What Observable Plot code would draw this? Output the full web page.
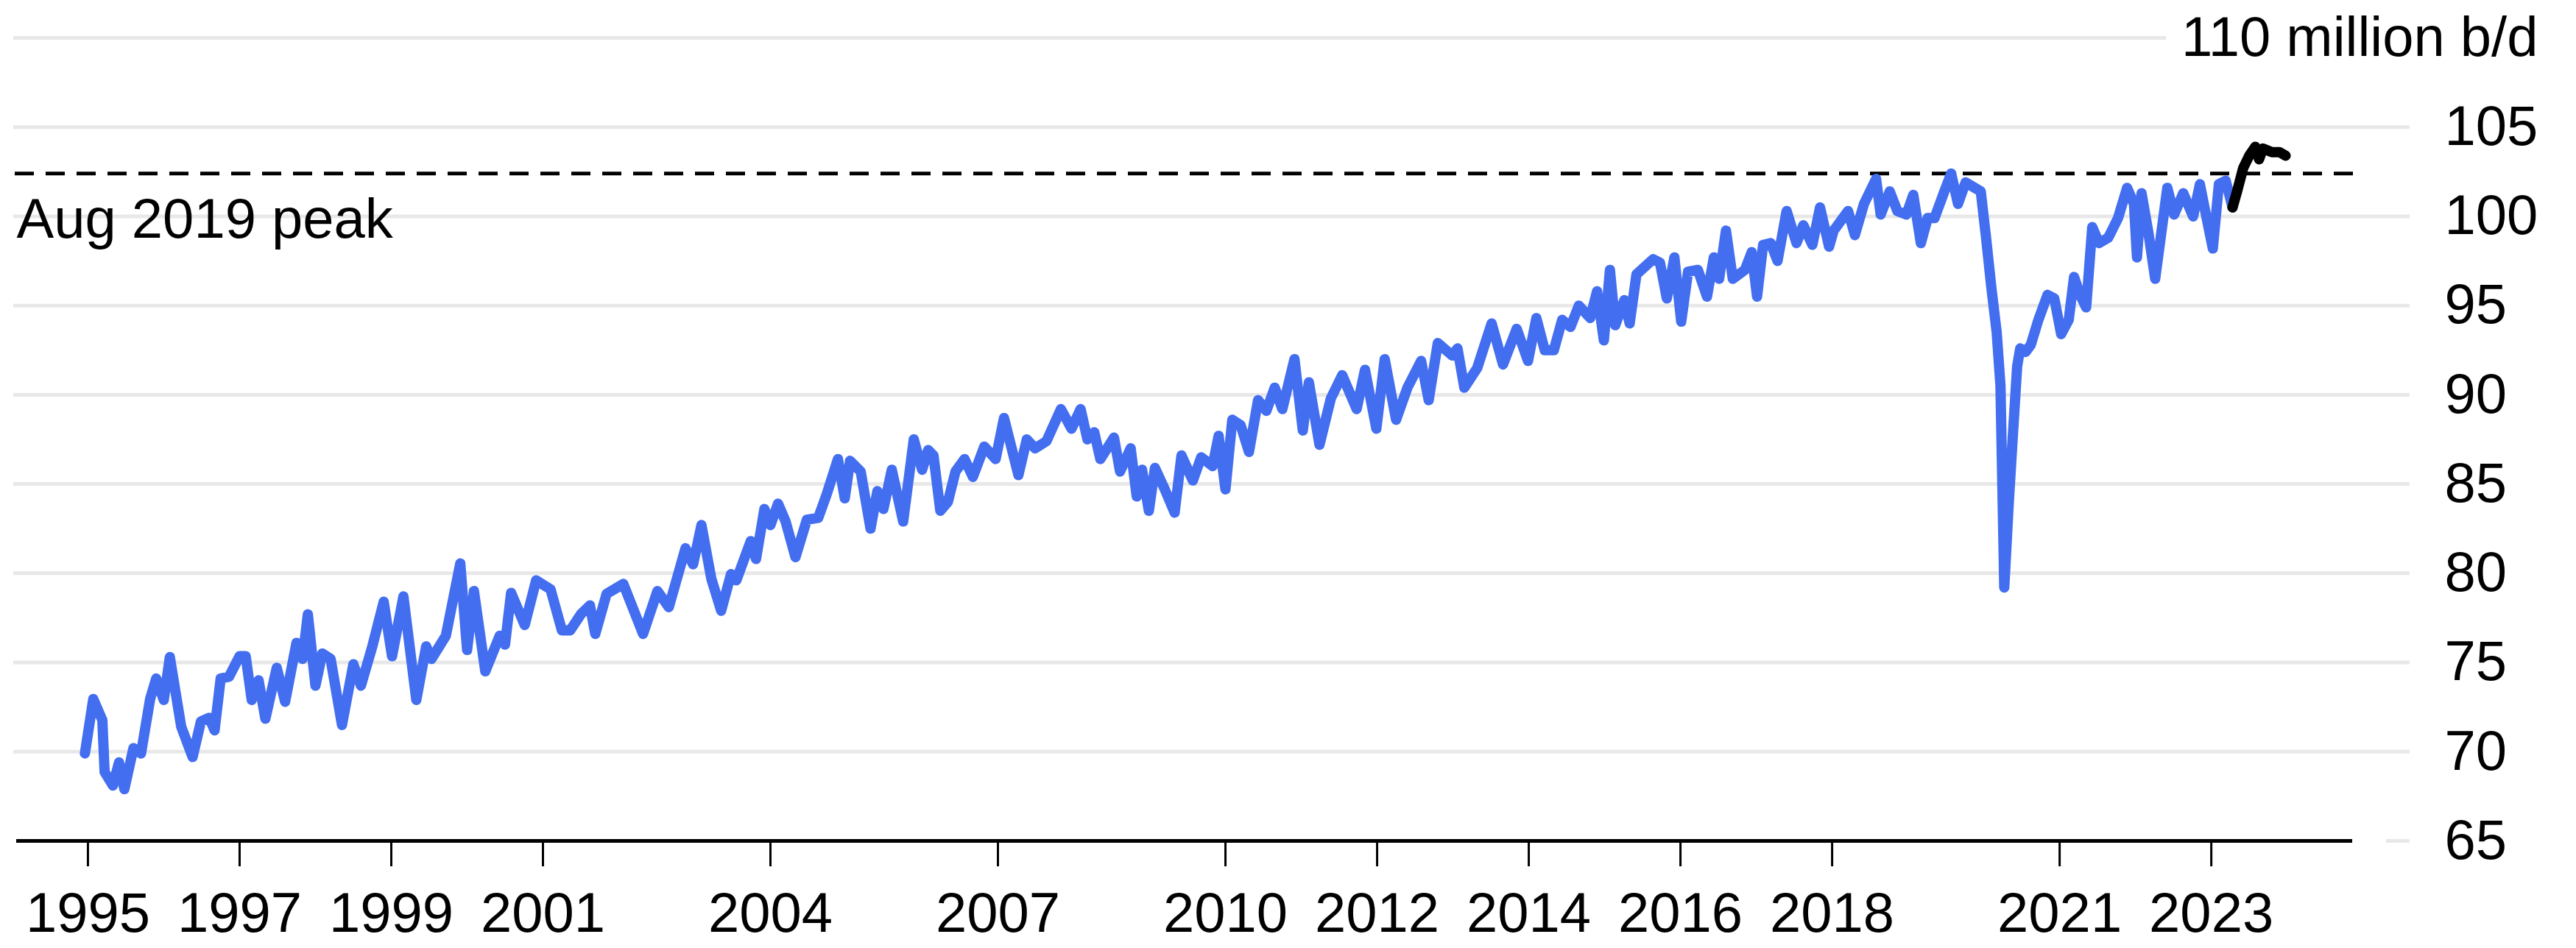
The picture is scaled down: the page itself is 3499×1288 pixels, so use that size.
<!DOCTYPE html>
<html><head><meta charset="utf-8">
<script src="https://cdn.jsdelivr.net/npm/d3@7"></script>
<script src="https://cdn.jsdelivr.net/npm/@observablehq/plot@0.6"></script>
<style>html,body{margin:0;padding:0;background:#fff}</style>
</head><body><div id="chart"></div>
<script>
// World oil demand, million barrels per day
const demandYears = [
1994.96,1995.07,1995.19,1995.22,1995.33,1995.41,1995.48,1995.6,1995.7,1995.82,1995.9,
1996.0,1996.08,1996.23,1996.38,1996.49,1996.6,1996.67,1996.75,1996.86,
1997.0,1997.08,1997.16,1997.25,1997.34,1997.49,1997.6,1997.75,1997.83,1997.9,
1998.0,1998.09,1998.2,1998.35,1998.5,1998.6,1998.75,1998.9,
1999.01,1999.16,1999.33,1999.46,1999.53,1999.72,1999.91,
2000.0,2000.09,2000.24,2000.43,2000.5,2000.58,2000.76,2000.91,
2001.1,2001.25,2001.36,2001.5,2001.62,2001.69,2001.84,
2002.06,2002.32,2002.51,2002.66,2002.88,2002.98,
2003.09,2003.22,2003.35,2003.48,2003.55,2003.74,2003.81,2003.92,
2004.0,2004.1,2004.2,2004.33,2004.48,2004.63,2004.74,2004.89,2004.98,
2005.05,2005.19,2005.32,2005.41,2005.49,2005.6,2005.75,2005.89,
2006.0,2006.08,2006.15,2006.24,2006.34,2006.44,2006.56,2006.67,2006.82,2006.97,
2007.08,2007.27,2007.38,2007.49,2007.64,2007.83,2007.97,
2008.09,2008.18,2008.27,2008.35,2008.53,2008.61,2008.75,2008.83,2008.9,2008.99,
2009.07,2009.2,2009.33,2009.42,2009.57,2009.68,2009.83,2009.91,
2010.0,2010.09,2010.2,2010.31,2010.43,2010.54,2010.65,2010.75,2010.91,
2011.02,2011.1,2011.24,2011.39,2011.54,2011.73,2011.84,2011.99,
2012.1,2012.25,2012.4,2012.58,2012.68,2012.8,2012.99,
2013.06,2013.15,2013.32,2013.51,2013.66,2013.84,2013.99,
2014.1,2014.21,2014.33,2014.44,2014.55,2014.66,2014.81,2014.9,2014.99,
2015.07,2015.14,2015.26,2015.33,2015.42,2015.64,2015.73,2015.82,2015.92,
2016.01,2016.1,2016.23,2016.35,2016.44,2016.51,2016.6,2016.69,2016.85,2016.94,
2017.01,2017.09,2017.19,2017.28,2017.4,2017.53,2017.62,2017.74,2017.84,2017.96,
2018.02,2018.21,2018.3,2018.42,2018.58,2018.64,2018.76,2018.86,2018.98,
2019.07,2019.17,2019.26,2019.35,2019.48,2019.57,2019.66,2019.76,2019.88,2019.96,
2020.03,2020.1,2020.17,2020.22,2020.27,2020.33,2020.38,2020.44,2020.48,2020.55,2020.62,2020.72,2020.84,2020.93,
2021.02,2021.12,2021.19,2021.27,2021.35,2021.43,2021.52,2021.64,2021.77,2021.89,2021.98,
2022.02,2022.08,2022.17,2022.26,2022.42,2022.51,2022.63,2022.76,2022.85,2022.91,
2023.02,2023.1,2023.19,2023.28
];
const demandValues = [
69.9,72.95,71.76,68.86,68.1,69.4,67.9,70.2,69.9,72.95,74.1,
72.9,75.3,71.4,69.7,71.7,71.9,71.2,74.1,74.2,
75.35,75.35,72.9,74.0,71.85,74.7,72.8,76.1,75.2,77.7,
73.7,75.5,75.2,71.5,74.9,73.7,75.9,78.4,
75.35,78.7,72.9,75.9,75.2,76.5,80.55,
75.7,79.0,74.5,76.5,76.0,78.9,77.1,79.6,
79.1,76.8,76.8,77.7,78.2,76.6,78.85,
79.4,76.6,79.0,78.1,81.4,80.5,
82.7,79.7,77.9,79.95,79.6,81.8,80.8,83.6,
82.7,83.9,82.9,80.9,83.0,83.1,84.4,86.4,84.2,
86.3,85.7,82.5,84.6,83.6,85.8,82.9,87.5,
85.8,86.9,86.6,83.5,84.0,85.7,86.4,85.4,87.1,86.4,
88.7,85.5,87.5,87.0,87.4,89.2,88.1,
89.2,87.5,87.9,86.4,87.6,85.7,87.0,84.3,85.8,83.5,
85.9,84.7,83.4,86.6,85.2,86.5,86.0,87.7,
84.7,88.6,88.3,86.8,89.7,89.1,90.4,89.2,92.0,
88.0,90.7,87.2,89.8,91.1,89.2,91.4,88.1,
92.0,88.6,90.4,91.9,89.7,92.9,92.2,
92.6,90.4,91.5,94.0,91.7,93.7,91.9,
94.3,92.5,92.5,94.2,93.8,95.0,94.3,95.8,93.05,
97.0,93.9,95.3,94.0,96.75,97.6,97.4,95.4,97.7,
94.1,96.9,97.0,95.5,97.7,96.5,99.2,96.5,97.0,98.0,
95.5,98.4,98.5,97.5,100.3,98.5,99.5,98.4,100.5,98.3,
99.2,100.3,98.95,100.7,102.1,100.1,101.4,100.3,100.1,
101.2,98.5,99.9,99.9,101.4,102.4,100.7,101.9,101.6,101.4,
98.8,96.0,93.5,90.5,79.2,84.0,87.5,91.6,92.6,92.4,92.8,94.2,95.6,95.4,
93.4,94.2,96.6,95.6,94.9,99.4,98.5,98.8,99.9,101.6,100.7,
97.7,101.3,99.1,96.5,101.6,100.1,101.3,100.0,101.8,100.5,
98.2,101.8,102.0,100.5
];
// Forecast segment (black)
const forecastYears  = [2023.28,2023.34,2023.42,2023.5,2023.58,2023.63,2023.68,2023.8,2023.9,2023.98];
const forecastValues = [100.5,101.4,102.7,103.4,103.9,103.2,103.8,103.6,103.6,103.4];

const xTicks = [1995,1997,1999,2001,2004,2007,2010,2012,2014,2016,2018,2021,2023];
const yTicks = [65,70,75,80,85,90,95,100,105];
const unitTick = 110;
const unitLabel = "110 million b/d";
const peakValue = 102.4;
const peakLabel = "Aug 2019 peak";
const xDomain = [1994.02, 2025.62];
const yDomain = [65, 110];

const demand = demandYears.map((t, i) => ({t, v: demandValues[i]}));
const forecast = forecastYears.map((t, i) => ({t, v: forecastValues[i]}));

const FS = 76;
const grid = "#e8e8e8";

const chart = Plot.plot({
  width: 3499,
  height: 1288,
  marginLeft: 18,
  marginRight: 226,
  marginTop: 51,
  marginBottom: 146,
  style: {fontFamily: "'Liberation Sans', Arial, Helvetica, sans-serif", fontSize: FS + "px", color: "#000", background: "#fff"},
  x: {domain: xDomain, label: null},
  y: {domain: yDomain, label: null},
  marks: [
    Plot.ruleY(yTicks.filter(d => d > yDomain[0]), {stroke: grid, strokeWidth: 5}),
    Plot.ruleY([yDomain[0]], {stroke: grid, strokeWidth: 5, insetLeft: 3223}),
    Plot.ruleY([unitTick], {stroke: grid, strokeWidth: 5, insetRight: 331}),
    Plot.axisY({anchor: "right", ticks: yTicks, tickSize: 0, tickPadding: 47, textAnchor: "start", label: null, fontSize: FS}),
    Plot.text([{x: xDomain[1], y: unitTick, label: unitLabel}], {x: "x", y: "y", text: "label", textAnchor: "end", dx: 174, fontSize: FS}),
    Plot.axisX({ticks: xTicks, tickFormat: d => String(d), tickSize: 35, tickPadding: 35, strokeWidth: 3, label: null, fontSize: FS}),
    Plot.ruleY([peakValue], {stroke: "#000", strokeWidth: 5, strokeDasharray: "26,16", insetLeft: 2, insetRight: 75}),
    Plot.text([{x: xDomain[0], y: peakValue, label: peakLabel}], {x: "x", y: "y", text: "label", textAnchor: "start", lineAnchor: "top", dx: 4, dy: 33, fontSize: FS}),
    Plot.line(demand, {x: "t", y: "v", stroke: "#436ef0", strokeWidth: 14, strokeLinejoin: "round", strokeLinecap: "round"}),
    Plot.line(forecast, {x: "t", y: "v", stroke: "#000", strokeWidth: 14, strokeLinejoin: "round", strokeLinecap: "round"}),
    Plot.ruleY([yDomain[0]], {stroke: "#000", strokeWidth: 5, insetLeft: 4, insetRight: 78})
  ]
});
document.getElementById("chart").appendChild(chart);
</script>
</body></html>
